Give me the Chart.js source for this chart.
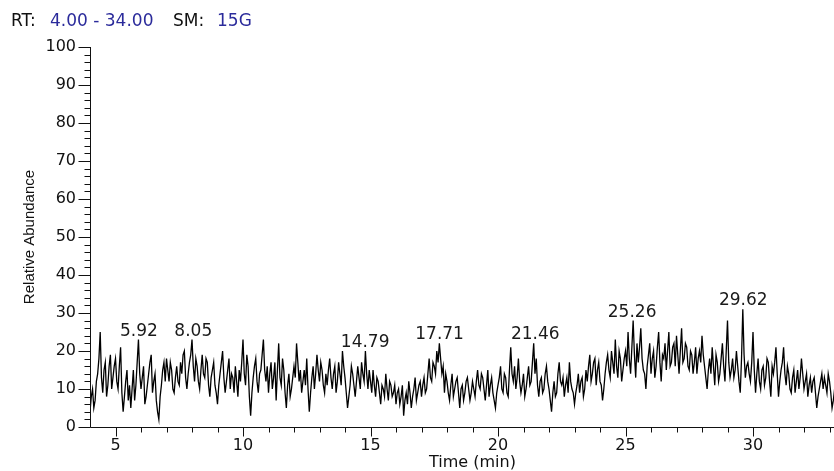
<!DOCTYPE html>
<html>
<head>
<meta charset="utf-8">
<script src="https://cdn.jsdelivr.net/npm/chart.js@4.4.1/dist/chart.umd.min.js"></script>
<style>
    body {
        margin: 0;
        width: 834px;
        height: 471px;
        overflow: hidden;
        background: #ffffff;
    }
    .wrap {
        position: relative;
        width: 834px;
        height: 471px;
    }
    #tic {
        position: absolute;
        left: 0;
        top: 0;
        display: block;
    }
    .hdr {
        position: absolute;
        top: 12px;
        font-family: 'DejaVu Sans', sans-serif;
        font-size: 17px;
        line-height: 17px;
        color: #111;
        white-space: pre;
    }
    .hdr.blue {
        color: #2b2b9b;
    }
</style>
</head>
<body>
<div class="wrap">
    <canvas id="tic" width="858" height="471"></canvas>
    <span class="hdr" style="left:11px">RT:</span>
    <span class="hdr blue" style="left:50px">4.00 - 34.00</span>
    <span class="hdr" style="left:173px">SM:</span>
    <span class="hdr blue" style="left:217px">15G</span>
</div>
<script>
const rtStart = 4.0;
const rtStep = 0.05;
const abundance = [
    4, 8, 10, 5, 7, 12, 14, 18, 25, 13, 9, 15, 17, 8, 11, 16, 19, 10, 13, 16,        // 4
    18, 12, 10, 16, 21, 9, 4, 8, 12, 15, 7, 11, 5, 10, 15, 7, 11, 17, 23, 14,        // 5
    10, 13, 16, 6, 8, 11, 14, 17, 19, 9, 12, 14, 7, 4, 2, 8, 11, 15, 17, 12,         // 6
    18, 15, 12, 17, 15, 10, 9, 13, 16, 12, 11, 17, 14, 19, 20, 13, 10, 14, 17, 19,   // 7
    23, 16, 12, 18, 16, 12, 10, 15, 19, 14, 13, 18, 17, 11, 8, 13, 15, 17, 11, 9,    // 8
    6, 11, 14, 17, 20, 13, 9, 12, 15, 18, 10, 14, 13, 9, 16, 12, 8, 15, 12, 17,      // 9
    23, 14, 11, 19, 16, 8, 3, 9, 13, 16, 18, 12, 9, 14, 15, 19, 23, 15, 12, 16,      // 10
    9, 14, 17, 10, 13, 17, 7, 15, 22, 13, 11, 18, 15, 9, 5, 11, 14, 8, 10, 13,       // 11
    16, 13, 22, 17, 12, 15, 9, 12, 15, 11, 18, 10, 4, 9, 13, 16, 10, 14, 19, 15,     // 12
    12, 17, 15, 11, 9, 14, 11, 15, 18, 13, 10, 14, 16, 9, 12, 17, 14, 11, 20, 16,    // 13
    13, 9, 5, 8, 11, 16, 14, 11, 8, 12, 16, 13, 10, 17, 14, 12, 20, 14, 10, 15,      // 14
    12, 9, 15, 11, 8, 13, 12, 9, 6, 11, 10, 8, 14, 10, 7, 12, 11, 8, 9, 11,          // 15
    6, 9, 10, 6, 8, 11, 3, 7, 9, 6, 12, 9, 5, 8, 10, 13, 7, 9, 11, 12,               // 16
    8, 11, 13, 9, 10, 14, 18, 13, 12, 17, 16, 14, 20, 17, 22, 18, 14, 16, 9, 14,     // 17
    12, 9, 7, 11, 14, 8, 10, 12, 13, 9, 5, 10, 11, 7, 9, 12, 13, 10, 7, 9,           // 18
    12, 10, 8, 12, 15, 11, 10, 14, 13, 10, 7, 11, 15, 8, 11, 13, 9, 7, 5, 9,         // 19
    11, 13, 16, 10, 9, 14, 13, 9, 8, 15, 21, 14, 12, 16, 10, 13, 18, 12, 9, 11,      // 20
    14, 8, 10, 13, 16, 11, 12, 17, 22, 14, 18, 11, 8, 12, 13, 9, 10, 14, 16, 12,     // 21
    10, 7, 4, 9, 12, 8, 9, 14, 17, 12, 11, 13, 8, 11, 13, 9, 17, 12, 10, 9,          // 22
    6, 9, 11, 14, 9, 12, 13, 8, 10, 15, 12, 16, 19, 12, 14, 17, 18, 11, 15, 17,      // 23
    12, 11, 7, 10, 14, 17, 19, 15, 13, 20, 17, 14, 23, 16, 13, 20, 18, 12, 15, 18,   // 24
    20, 16, 25, 18, 14, 21, 28, 19, 13, 22, 17, 21, 26, 18, 15, 14, 10, 16, 19, 22,  // 25
    14, 18, 20, 13, 16, 21, 25, 17, 12, 19, 18, 22, 15, 20, 25, 16, 17, 21, 22, 16,  // 26
    24, 19, 14, 20, 26, 17, 18, 22, 21, 16, 15, 20, 19, 14, 17, 21, 14, 18, 20, 17,  // 27
    24, 19, 16, 13, 10, 15, 18, 14, 21, 16, 11, 19, 17, 12, 14, 18, 22, 16, 12, 20,  // 28
    28, 17, 13, 15, 18, 13, 15, 20, 16, 12, 9, 18, 31, 19, 13, 16, 17, 14, 12, 17,   // 29
    25, 15, 9, 14, 18, 12, 10, 15, 16, 11, 13, 18, 17, 12, 8, 16, 14, 17, 21, 14,    // 30
    8, 12, 15, 17, 21, 14, 11, 16, 14, 10, 9, 13, 15, 9, 12, 15, 10, 13, 18, 14,     // 31
    10, 12, 14, 8, 11, 13, 9, 12, 13, 9, 5, 8, 10, 12, 14, 10, 13, 11, 9, 14,        // 32
    12, 9, 5, 7, 10, 12, 8                                                           // 33
];
const rtTimes = abundance.map((_, i) => Math.round((rtStart + i * rtStep) * 100) / 100);

// Picos etiquetados
const peakTimes = [5.92, 8.05, 14.79, 17.71, 21.46, 25.26, 29.62];

// Marcas de los ejes
const xTicks = [5, 10, 15, 20, 25, 30];
const yTicks = [0, 10, 20, 30, 40, 50, 60, 70, 80, 90, 100];
const rtRange = [4, 34];

const tickFont = { family: 'DejaVu Sans', size: 16 };

// Ejes con marcas mayores y menores
const axisPlugin = {
    id: 'axisTicks',
    afterDraw(chart) {
        const { ctx, chartArea: a, scales: { x, y } } = chart;
        ctx.save();
        ctx.strokeStyle = '#111';
        ctx.lineWidth = 1;
        ctx.beginPath();
        const ax = Math.round(a.left) + 0.5;
        const ay = Math.round(a.bottom) + 0.5;
        ctx.moveTo(ax, a.top);
        ctx.lineTo(ax, ay);
        ctx.lineTo(a.right, ay);
        for (let v = 0; v <= 100; v += 2) {
            const py = Math.round(y.getPixelForValue(v)) + 0.5;
            const len = v % 10 === 0 ? 12 : 6;
            ctx.moveTo(ax - len, py);
            ctx.lineTo(ax, py);
        }
        for (let t = rtRange[0] + 1; t <= rtRange[1]; t++) {
            const px = Math.round(x.getPixelForValue(t)) + 0.5;
            const len = t % 5 === 0 ? 9 : 5;
            ctx.moveTo(px, ay);
            ctx.lineTo(px, ay + len);
        }
        ctx.stroke();
        ctx.restore();
    }
};

// Etiquetas de los picos
const peakPlugin = {
    id: 'peakLabels',
    afterDatasetsDraw(chart) {
        const { ctx, scales: { x, y } } = chart;
        ctx.save();
        ctx.font = '17px "DejaVu Sans"';
        ctx.fillStyle = '#1a1a1a';
        ctx.textAlign = 'center';
        ctx.textBaseline = 'alphabetic';
        peakTimes.forEach(t => {
            let best = 0;
            rtTimes.forEach((rt, i) => {
                if (Math.abs(rt - t) <= 0.15 && abundance[i] > best) best = abundance[i];
            });
            ctx.fillText(t.toFixed(2), x.getPixelForValue(t), y.getPixelForValue(best) - 4);
        });
        ctx.restore();
    }
};

new Chart(document.getElementById('tic'), {
    type: 'line',
    data: {
        datasets: [{
            label: 'TIC',
            data: rtTimes.map((t, i) => ({ x: t, y: abundance[i] })),
            borderColor: '#000000',
            borderWidth: 1.3,
            pointRadius: 0,
            tension: 0,
            fill: false
        }]
    },
    options: {
        responsive: false,
        devicePixelRatio: 1,
        animation: false,
        layout: {
            padding: { top: 47, right: 3, left: 0, bottom: 0 }
        },
        plugins: {
            legend: { display: false },
            tooltip: { enabled: false }
        },
        scales: {
            x: {
                type: 'linear',
                min: rtRange[0],
                max: rtRange[1],
                grid: { display: false, drawTicks: false },
                border: { display: false },
                afterBuildTicks(s) {
                    s.ticks = xTicks.map(v => ({ value: v }));
                },
                afterFit(s) {
                    s.height = 44;
                },
                ticks: {
                    padding: 9,
                    color: '#111',
                    font: tickFont,
                    maxRotation: 0,
                    autoSkip: false
                },
                title: {
                    display: true,
                    text: 'Time (min)',
                    color: '#111',
                    font: { family: 'DejaVu Sans', size: 16, lineHeight: 1 },
                    padding: { top: 0, bottom: 0 }
                }
            },
            y: {
                min: 0,
                max: 100,
                grid: { display: false, drawTicks: false },
                border: { display: false },
                afterBuildTicks(s) {
                    s.ticks = yTicks.map(v => ({ value: v }));
                },
                afterFit(s) {
                    s.width = 90;
                },
                ticks: {
                    padding: 14,
                    color: '#111',
                    font: tickFont
                },
                title: {
                    display: true,
                    text: 'Relative Abundance',
                    color: '#111',
                    font: { family: 'Liberation Sans', size: 15, lineHeight: 1 },
                    padding: { top: 22, bottom: 0 }
                }
            }
        }
    },
    plugins: [axisPlugin, peakPlugin]
});
</script>
</body>
</html>
